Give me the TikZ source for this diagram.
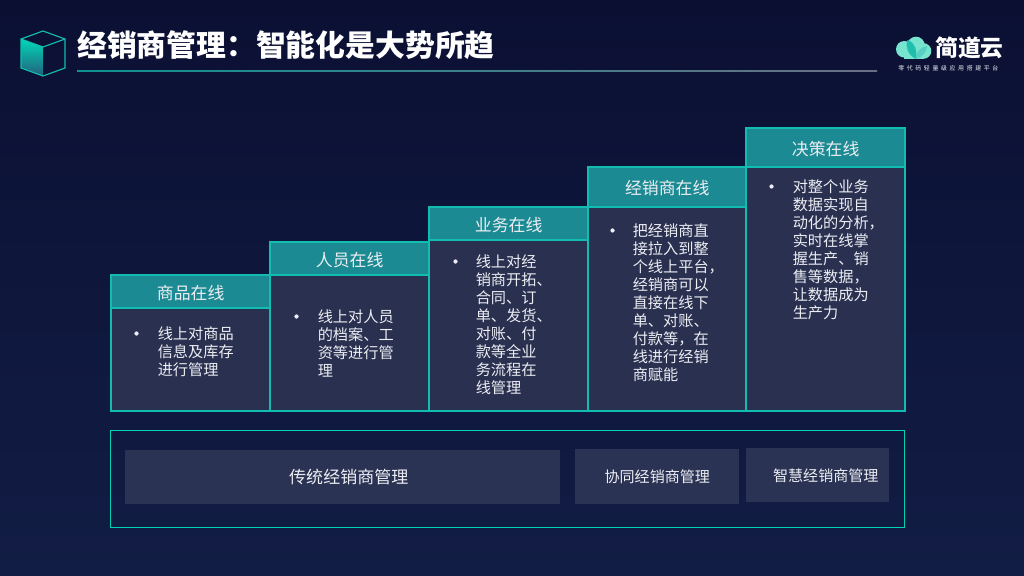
\documentclass[tikz,border=0pt]{standalone}
\usepackage{fontspec}
\setmainfont{Noto Sans CJK SC}
\newfontfamily\logowide[LetterSpace=45]{Noto Sans CJK SC}
\usetikzlibrary{positioning}
\definecolor{bgTop}{HTML}{0B1033}
\definecolor{bgBottom}{HTML}{121D45}
\definecolor{stepHead}{HTML}{1B8A92}
\definecolor{stepBody}{HTML}{2A3050}
\definecolor{stepLine}{HTML}{10BDB0}
\definecolor{frameLine}{HTML}{00D2B4}
\definecolor{barFill}{HTML}{2B3354}
\definecolor{textSoft}{HTML}{ECEEF3}
\definecolor{logoMint}{HTML}{76E4CF}
\definecolor{logoTeal}{HTML}{1FBFAE}
\definecolor{cubeTop}{HTML}{00D8B8}
\definecolor{cubeLow}{HTML}{235F7C}
\tikzset{
  headBox/.style={rectangle, fill=stepHead, text=textSoft, anchor=north west,
                  inner sep=0pt, outer sep=0pt, text height=11pt, text depth=0pt,
                  font=\fontsize{12}{14}\selectfont},
  bodyBox/.style={rectangle, fill=stepBody, inner sep=0pt, outer sep=0pt},
  stepEdge/.style={draw=stepLine, line width=1.1pt},
  bodyText/.style={anchor=north west, align=left, inner sep=0pt, text=textSoft,
                   font=\fontsize{10.8}{12.8}\selectfont},
  bulletDot/.style={circle, fill=textSoft, inner sep=0pt, minimum size=3pt},
  barBox/.style={rectangle, fill=barFill, text=textSoft, anchor=north west, inner sep=0pt,
                 font=\fontsize{10.7}{13}\selectfont},
}
\begin{document}
\begin{tikzpicture}[x=0.025cm, y=-0.025cm]
    \shade[top color=bgTop, bottom color=bgBottom] (0,0) rectangle (1024,576);
    \useasboundingbox (0,0) rectangle (1024,576);
    % cube
    \fill[top color=cubeTop, bottom color=cubeLow]
      (21,39) -- (43,47) -- (43,76) -- (21,68) -- cycle;
    \draw[stepLine, line width=0.8pt] (43,31) -- (65,39) -- (65,68) -- (43,76) -- (21,68) -- (21,39) -- cycle;
    \draw[stepLine, line width=0.8pt] (21,39) -- (43,47) -- (65,39);
    \node[anchor=west, inner sep=0pt, text=white, font=\fontsize{21.2}{26}\selectfont\bfseries] (title) at (77,45)
      {经销商管理：智能化是大势所趋};
    \fill[left color=stepLine!75!bgTop, right color=stepBody!70!white] (77,71) rectangle (877,72);
    % logo
    \fill[logoMint] (904.3,49.3) circle (8.3);
    \fill[logoMint] (916,45.5) circle (8.8);
    \fill[logoMint] (923.5,51) circle (7.8);
    \fill[logoMint] (904.3,50) rectangle (923.5,58.8);
    \fill[logoTeal] (907.5,40) .. controls (916,43) and (917,51) .. (916,59) .. controls (908,55) and (905,47) .. (907.5,40) -- cycle;
    \fill[logoTeal!75!white] (927,46) .. controls (927,52) and (922,57) .. (916,59) .. controls (916,52) and (920,47) .. (927,46) -- cycle;
    \node[anchor=west, inner sep=0pt, text=white, font=\fontsize{16.2}{18}\selectfont\bfseries] (logoname) at (935,47.5) {简道云};
    \node[anchor=west, inner sep=0pt, text=textSoft, font=\logowide\fontsize{4.2}{5}\selectfont] (logosub) at (898,68.5) {零代码轻量级应用搭建平台};
    % steps
    \foreach \i/\x/\w/\y/\h/\dep/\tx/\ty/\bx/\by/\txt/\cap in {
      1/111.2/159/275.2/33/103/46.3/18.3/25.3/25.3/{线上对商品\\信息及库存\\进行管理}/{商品在线},
      2/270.2/159/242.2/33/136/47.3/34.3/26.3/41.3/{线上对人员\\的档案、工\\资等进行管\\理}/{人员在线},
      3/429.2/159/207.2/33/171/46.3/14.3/26.3/21.3/{线上对经\\销商开拓、\\合同、订\\单、发货、\\对账、付\\款等全业\\务流程在\\线管理}/{业务在线},
      4/588.2/158/167.2/40/204/44.3/16.3/24.3/23.3/{把经销商直\\接拉入到整\\个线上平台，\\经销商可以\\直接在线下\\单、对账、\\付款等，在\\线进行经销\\商赋能}/{经销商在线},
      5/746.2/159/128.2/39/244/46.3/12.3/25.3/19.3/{对整个业务\\数据实现自\\动化的分析，\\实时在线掌\\握生产、销\\售等数据，\\让数据成为\\生产力}/{决策在线}} {
      \node[headBox, minimum width=\w*0.025cm, minimum height=\h*0.025cm] (head\i) at (\x,\y) {\cap};
      \node[bodyBox, minimum width=\w*0.025cm, minimum height=\dep*0.025cm, below=0pt of head\i] (body\i) {};
      \node[bodyText] (text\i) at ([xshift=\tx*0.025cm, yshift=-\ty*0.025cm]body\i.north west) {\txt};
      \node[bulletDot] (dot\i) at ([xshift=\bx*0.025cm, yshift=-\by*0.025cm]body\i.north west) {};
    }
    \foreach \i in {1,...,5} {
      \draw[stepEdge] (head\i.north west) rectangle (body\i.south east);
      \draw[stepEdge] (body\i.north west) -- (body\i.north east);
    }
    % bottom frame
    \node[draw=frameLine, line width=0.9pt, anchor=north west, inner sep=0pt, minimum width=794*0.025cm, minimum height=97*0.025cm] (frame) at (110.2,430.2) {};
    \node[barBox, minimum width=435*0.025cm, minimum height=54*0.025cm, font=\fontsize{12.1}{14}\selectfont] (bar1) at (125,450) {\hspace{0.3cm}传统经销商管理};
    \node[barBox, minimum width=164*0.025cm, minimum height=55*0.025cm] (bar2) at (575,449) {协同经销商管理};
    \node[barBox, minimum width=143*0.025cm, minimum height=54*0.025cm] (bar3) at (746,448) {\hspace{0.4cm}智慧经销商管理};
\end{tikzpicture}
\end{document}
